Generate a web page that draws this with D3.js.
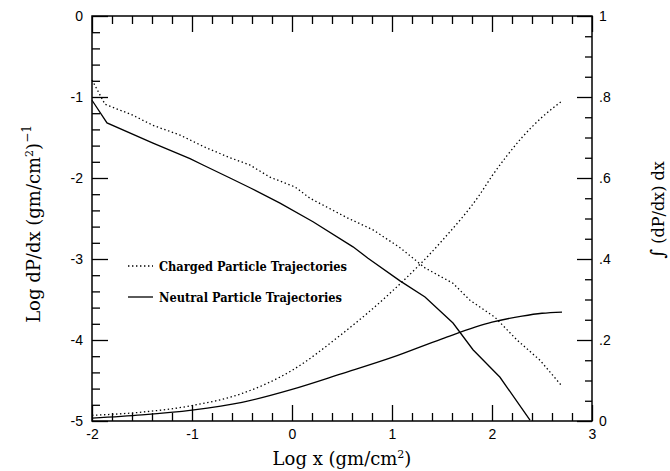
<!DOCTYPE html>
<html>
<head>
<meta charset="utf-8">
<script src="https://cdn.jsdelivr.net/npm/d3@7"></script>
<style>
  html, body { margin: 0; padding: 0; background: #fff; }
  svg { display: block; }
</style>
</head>
<body>
<svg id="chart" width="670" height="471"></svg>
<script>
// ---------- data ----------
const chargedDPx = [-2, -1.87, -1.6, -1.39, -1.12, -0.87, -0.62, -0.42, -0.22, 0.03, 0.18, 0.55, 0.81, 1.08, 1.33, 1.61, 1.78, 2.03, 2.25, 2.48, 2.7];
const chargedDPy = [-0.79, -1.09, -1.22, -1.35, -1.47, -1.62, -1.75, -1.84, -1.99, -2.11, -2.25, -2.49, -2.64, -2.86, -3.11, -3.30, -3.51, -3.72, -4.0, -4.25, -4.57];

const neutralDPx = [-2, -1.85, -1.39, -1.02, -0.89, -0.62, -0.42, -0.12, 0.21, 0.61, 0.76, 1.08, 1.33, 1.61, 1.81, 2.08, 2.38];
const neutralDPy = [-1.04, -1.32, -1.57, -1.76, -1.84, -2.0, -2.12, -2.31, -2.54, -2.85, -2.99, -3.27, -3.47, -3.79, -4.12, -4.46, -4.99];

const chargedIntX = [-2, -1.5, -1.0, -0.5, 0, 0.5, 1.0, 1.5, 1.88, 2.0, 2.15, 2.3, 2.5, 2.7];
const chargedIntY = [0.014, 0.022, 0.038, 0.068, 0.125, 0.215, 0.32, 0.445, 0.56, 0.605, 0.655, 0.70, 0.75, 0.79];

const neutralIntX = [-2, -1.5, -1.0, -0.5, 0, 0.5, 1.0, 1.5, 2.0, 2.3, 2.5, 2.7];
const neutralIntY = [0.007, 0.015, 0.027, 0.046, 0.078, 0.117, 0.157, 0.203, 0.244, 0.259, 0.266, 0.269];

const xTickValues = [-2, -1, 0, 1, 2, 3];
const xTickLabels = ["-2", "-1", "0", "1", "2", "3"];
const yLeftTickValues = [0, -1, -2, -3, -4, -5];
const yLeftTickLabels = ["0", "-1", "-2", "-3", "-4", "-5"];
const yRightTickValues = [0, 0.2, 0.4, 0.6, 0.8, 1];
const yRightTickLabels = ["0", ".2", ".4", ".6", ".8", "1"];

const legendLabels = ["Charged Particle Trajectories", "Neutral Particle Trajectories"];

// ---------- layout ----------
const svg = d3.select("#chart");
const L = 92, R = 592, T = 16, B = 421;

const x = d3.scaleLinear().domain([-2, 3]).range([L, R]);
const yL = d3.scaleLinear().domain([-5, 0]).range([B, T]);
const yR = d3.scaleLinear().domain([0, 1]).range([B, T]);

const tickFont = "'Liberation Sans', Arial, Helvetica, sans-serif";
const serif = "'DejaVu Serif', 'Liberation Serif', serif";

const xMinor = d3.range(-2, 3.0001, 0.2).map(v => +v.toFixed(2)).filter(v => Math.abs(v - Math.round(v)) > 1e-6);
const yLMinor = d3.range(-5, 0.0001, 0.2).map(v => +v.toFixed(2)).filter(v => Math.abs(v - Math.round(v)) > 1e-6);
const yRMinor = d3.range(0, 1.0001, 0.05).map(v => +v.toFixed(2)).filter(v => Math.abs(v * 5 - Math.round(v * 5)) > 1e-6);

function styleAxis(g) {
  g.select(".domain").remove();
  g.selectAll(".tick line").attr("stroke", "#000").attr("stroke-width", 1.3);
  g.selectAll(".tick text").attr("fill", "#000").style("font-family", tickFont).style("font-size", "14px");
}

// bottom
svg.append("g").attr("transform", `translate(0,${B})`)
  .call(d3.axisBottom(x).tickValues(xMinor).tickSize(-8).tickFormat("")).call(styleAxis);
svg.append("g").attr("transform", `translate(0,${B})`)
  .call(d3.axisBottom(x).tickValues(xTickValues).tickSize(-16).tickPadding(8)
    .tickFormat((d, i) => xTickLabels[i])).call(styleAxis);
// top
svg.append("g").attr("transform", `translate(0,${T})`)
  .call(d3.axisTop(x).tickValues(xMinor).tickSize(-8).tickFormat("")).call(styleAxis);
svg.append("g").attr("transform", `translate(0,${T})`)
  .call(d3.axisTop(x).tickValues(xTickValues).tickSize(-16).tickFormat("")).call(styleAxis);
// left
svg.append("g").attr("transform", `translate(${L},0)`)
  .call(d3.axisLeft(yL).tickValues(yLMinor).tickSize(-8).tickFormat("")).call(styleAxis);
svg.append("g").attr("transform", `translate(${L},0)`)
  .call(d3.axisLeft(yL).tickValues(yLeftTickValues).tickSize(-16).tickPadding(9)
    .tickFormat((d, i) => yLeftTickLabels[i])).call(styleAxis);
// right
svg.append("g").attr("transform", `translate(${R},0)`)
  .call(d3.axisRight(yR).tickValues(yRMinor).tickSize(-7).tickFormat("")).call(styleAxis);
svg.append("g").attr("transform", `translate(${R},0)`)
  .call(d3.axisRight(yR).tickValues(yRightTickValues).tickSize(-15).tickPadding(7)
    .tickFormat((d, i) => yRightTickLabels[i])).call(styleAxis);

// frame
svg.append("rect").attr("x", L).attr("y", T).attr("width", R - L).attr("height", B - T)
  .attr("fill", "none").attr("stroke", "#000").attr("stroke-width", 1.5);

// ---------- curves ----------
const zip = (xs, ys) => xs.map((v, i) => [v, ys[i]]);
const lineL = d3.line().x(d => x(d[0])).y(d => yL(d[1]));
const lineR = d3.line().x(d => x(d[0])).y(d => yR(d[1])).curve(d3.curveMonotoneX);
const dotted = "1.4,2.6";

svg.append("path").datum(zip(chargedDPx, chargedDPy)).attr("d", lineL)
  .attr("fill", "none").attr("stroke", "#000").attr("stroke-width", 1.3).attr("stroke-dasharray", dotted);
svg.append("path").datum(zip(neutralDPx, neutralDPy)).attr("d", lineL)
  .attr("fill", "none").attr("stroke", "#000").attr("stroke-width", 1.3);
svg.append("path").datum(zip(chargedIntX, chargedIntY)).attr("d", lineR)
  .attr("fill", "none").attr("stroke", "#000").attr("stroke-width", 1.3).attr("stroke-dasharray", dotted);
svg.append("path").datum(zip(neutralIntX, neutralIntY)).attr("d", lineR)
  .attr("fill", "none").attr("stroke", "#000").attr("stroke-width", 1.3);

// ---------- legend ----------
const legY = [266, 297];
legendLabels.forEach((lab, i) => {
  svg.append("line").attr("x1", 128).attr("x2", 153).attr("y1", legY[i]).attr("y2", legY[i])
    .attr("stroke", "#000").attr("stroke-width", 1.3)
    .attr("stroke-dasharray", i === 0 ? dotted : null);
  svg.append("text").attr("x", 159).attr("y", legY[i] + 4.5)
    .style("font-family", serif).style("font-size", "12px").style("font-weight", "bold")
    .attr("textLength", i === 0 ? 188 : 183).attr("lengthAdjust", "spacingAndGlyphs")
    .text(lab);
});

// ---------- axis titles ----------
const xt = svg.append("text").attr("x", 342).attr("y", 465).attr("text-anchor", "middle")
  .style("font-family", serif).style("font-size", "18px");
xt.append("tspan").text("Log x (gm/cm");
xt.append("tspan").attr("dy", -7).style("font-size", "11px").text("2");
xt.append("tspan").attr("dy", 7).text(")");

const yt = svg.append("text").attr("transform", "translate(40,224) rotate(-90)").attr("text-anchor", "middle")
  .style("font-family", serif).style("font-size", "18px");
yt.append("tspan").text("Log dP/dx (gm/cm");
yt.append("tspan").attr("dy", -7).style("font-size", "11px").text("2");
yt.append("tspan").attr("dy", 7).text(")");
yt.append("tspan").attr("dy", -9).style("font-size", "12px").text("−1");

const rt = svg.append("text").attr("transform", "translate(664,210) rotate(-90)").attr("text-anchor", "middle")
  .style("font-family", serif).style("font-size", "16px");
rt.append("tspan").style("font-size", "19px").text("∫");
rt.append("tspan").text(" (dP/dx) dx");
</script>
</body>
</html>
